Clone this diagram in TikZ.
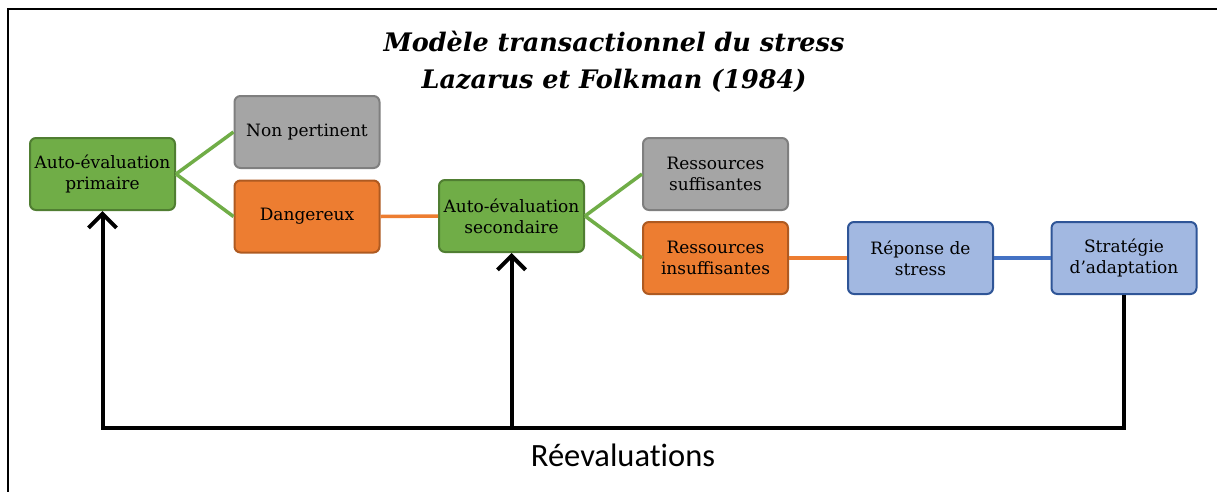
\documentclass[tikz,border=0pt]{standalone}
\usepackage{fontspec}
\setmainfont{DejaVu Serif}
\newfontfamily\calfont[Ligatures=NoCommon]{Carlito}
\usetikzlibrary{arrows.meta}
\definecolor{gfill}{HTML}{70AD47}
\definecolor{gdraw}{HTML}{507E32}
\definecolor{ofill}{HTML}{ED7D31}
\definecolor{odraw}{HTML}{AE5A21}
\definecolor{grfill}{HTML}{A5A5A5}
\definecolor{grdraw}{HTML}{7F7F7F}
\definecolor{bfill}{HTML}{A2B8E1}
\definecolor{bdraw}{HTML}{2F5597}
\definecolor{bline}{HTML}{4472C4}
\tikzset{
  box/.style={rectangle, rounded corners=6pt, line width=2pt, minimum width=145pt, minimum height=72pt,
    align=center, font=\fontsize{17}{21}\selectfont, inner sep=0pt},
  greenbox/.style={box, fill=gfill, draw=gdraw},
  orangebox/.style={box, fill=ofill, draw=odraw},
  graybox/.style={box, fill=grfill, draw=grdraw},
  bluebox/.style={box, fill=bfill, draw=bdraw},
  gline/.style={draw=gfill, line width=3.5pt},
  oline/.style={draw=ofill, line width=3.5pt},
  bluecon/.style={draw=bline, line width=3.5pt},
  fb/.style={draw=black, line width=4pt},
  fbarrow/.style={fb, -{Straight Barb[length=14pt, width=28pt, line width=4pt]}},
}
\begin{document}
\begin{tikzpicture}[x=1pt, y=-1pt]
\useasboundingbox (0,0) rectangle (1217,491);
\fill[white] (0,0) rectangle (1217,491);
% frame (top and left edges visible)
\coordinate (ftr) at (1217,9);
\coordinate (ftl) at (8,9);
\coordinate (fbl) at (8,491);
\draw[line width=2.5pt, line cap=rect] (ftr) -- (ftl) -- (fbl);
% title
\node[font=\fontsize{25.5}{37}\selectfont\bfseries\itshape, align=center] (title) at (614,62)
  {Modèle transactionnel du stress\\Lazarus et Folkman (1984)};
% boxes
\node[greenbox] (prim) at (102.5,174) {Auto-évaluation\\primaire};
\node[graybox] (nonp) at (307,132) {Non pertinent};
\node[orangebox] (dang) at (307,216.5) {Dangereux};
\node[greenbox] (sec) at (511.5,216) {Auto-évaluation\\secondaire};
\node[graybox] (suff) at (715.5,174) {Ressources\\suffisantes};
\node[orangebox] (insuf) at (715.5,258) {Ressources\\insuffisantes};
\node[bluebox] (rep) at (920.5,258) {Réponse de\\stress};
\node[bluebox] (strat) at (1124,258) {Stratégie\\d’adaptation};
% connectors
\draw[gline] (prim.east) -- (nonp.west);
\draw[gline] (prim.east) -- (dang.west);
\draw[oline] (dang.east) -- (sec.west);
\draw[gline] (sec.east) -- (suff.west);
\draw[gline] (sec.east) -- (insuf.west);
\draw[oline] (insuf.east) -- (rep.west);
\draw[bluecon] (rep.east) -- (strat.west);
% feedback
\coordinate (cr) at (1124,428);
\coordinate (cl) at (102.5,428);
\coordinate (cm) at (511.5,428);
\draw[fb, line join=miter] (strat.south) -- (cr) -- (cl);
\draw[fbarrow, line join=miter] (cr) -- (cl) -- (prim.south);
\draw[fbarrow] (cm) -- (sec.south);
\node[font=\calfont\fontsize{32.5}{38}\selectfont] (reev) at (623,455) {Réevaluations};
\end{tikzpicture}
\end{document}
